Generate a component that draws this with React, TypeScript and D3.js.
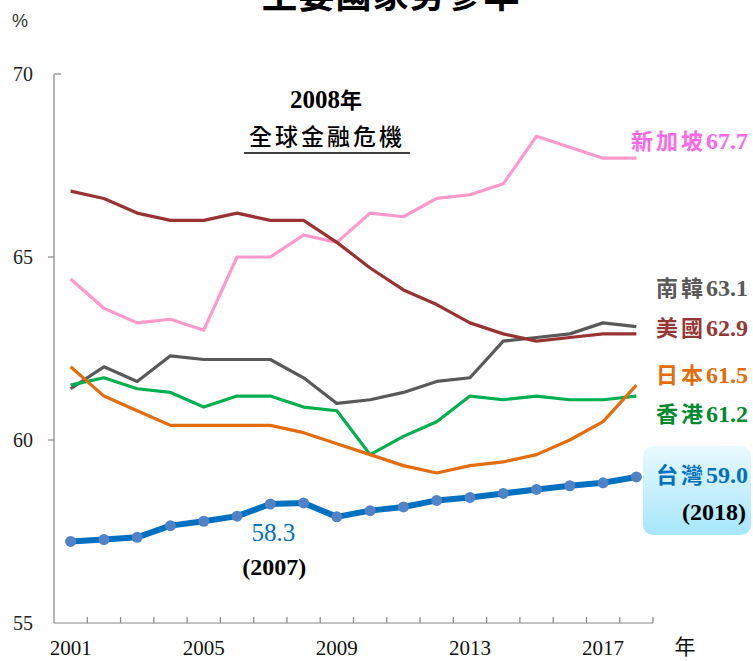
import React, { useEffect, useRef } from 'react';
import * as d3 from 'd3';

// ---- data ----
const years = ['2001', '2002', '2003', '2004', '2005', '2006', '2007', '2008', '2009',
	'2010', '2011', '2012', '2013', '2014', '2015', '2016', '2017', '2018'];
const yearLabels = ['2001', '2005', '2009', '2013', '2017'];
const yTicks = [55, 60, 65, 70];

const singapore = [64.4, 63.6, 63.2, 63.3, 63.0, 65.0, 65.0, 65.6, 65.4, 66.2, 66.1, 66.6, 66.7, 67.0, 68.3, 68.0, 67.7, 67.7];
const korea = [61.4, 62.0, 61.6, 62.3, 62.2, 62.2, 62.2, 61.7, 61.0, 61.1, 61.3, 61.6, 61.7, 62.7, 62.8, 62.9, 63.2, 63.1];
const usa = [66.8, 66.6, 66.2, 66.0, 66.0, 66.2, 66.0, 66.0, 65.4, 64.7, 64.1, 63.7, 63.2, 62.9, 62.7, 62.8, 62.9, 62.9];
const hongkong = [61.5, 61.7, 61.4, 61.3, 60.9, 61.2, 61.2, 60.9, 60.8, 59.6, 60.1, 60.5, 61.2, 61.1, 61.2, 61.1, 61.1, 61.2];
const japan = [62.0, 61.2, 60.8, 60.4, 60.4, 60.4, 60.4, 60.2, 59.9, 59.6, 59.3, 59.1, 59.3, 59.4, 59.6, 60.0, 60.5, 61.5];
const taiwan = [57.23, 57.28, 57.34, 57.66, 57.78, 57.92, 58.25, 58.28, 57.90, 58.07, 58.17, 58.35, 58.43, 58.54, 58.65, 58.75, 58.83, 58.99];

const CJK = 'Noto Sans CJK TC, Noto Sans CJK SC, sans-serif';
const SERIF = 'Liberation Serif, Times New Roman, DejaVu Serif, serif';

// series drawn back to front; label position is layout only
const series = [
	{ name: '新加坡', values: singapore, line: '#ff99cc', text: '#ff66e8', width: 3.2, labelY: 149 },
	{ name: '南韓', values: korea, line: '#595959', text: '#595959', width: 3.2, labelY: 296 },
	{ name: '美國', values: usa, line: '#993333', text: '#953735', width: 3.2, labelY: 336 },
	{ name: '香港', values: hongkong, line: '#00b050', text: '#008a2e', width: 3.2, labelY: 422 },
	{ name: '日本', values: japan, line: '#e46c0a', text: '#e46c0a', width: 3.2, labelY: 383 },
	{ name: '台灣', values: taiwan, line: '#0070c0', text: '#0070c0', width: 6, labelY: 483 },
];

const W = 753;
const H = 661;

export default function App() {
	const node = useRef<SVGSVGElement>(null);

	useEffect(() => {
		const svg = d3.select(node.current);
		svg.selectAll('*').remove();

		const left = 54;
		const right = 653;
		const top = 74;
		const bottom = 623;

		const x = d3.scaleBand<string>().domain(years).range([left, right]);
		const cx = (yr: string) => (x(yr) as number) + x.bandwidth() / 2;
		const y = d3.scaleLinear().domain([55, 70]).range([bottom, top]);

		const defs = svg.append('defs');
		const grad = defs.append('linearGradient')
			.attr('id', 'boxGrad')
			.attr('x1', 0).attr('y1', 0).attr('x2', 0).attr('y2', 1);
		grad.append('stop').attr('offset', '0%').attr('stop-color', '#e9f9fe');
		grad.append('stop').attr('offset', '100%').attr('stop-color', '#a6e6fb');

		// title (cut by the top edge, as in the reference)
		svg.append('text')
			.attr('x', 391).attr('y', 8)
			.attr('text-anchor', 'middle')
			.attr('font-family', CJK)
			.attr('font-weight', 'bold')
			.attr('font-size', 36)
			.attr('letter-spacing', 1)
			.text('主要國家勞參率');

		svg.append('text')
			.attr('x', 20).attr('y', 27)
			.attr('text-anchor', 'middle')
			.attr('font-family', 'Liberation Sans, Arial, sans-serif')
			.attr('font-size', 18)
			.attr('fill', '#333')
			.text('%');

		// axes
		const axisColor = '#868686';
		svg.append('line')
			.attr('x1', left).attr('x2', left)
			.attr('y1', top).attr('y2', bottom)
			.attr('stroke', axisColor).attr('stroke-width', 1.2);
		svg.append('line')
			.attr('x1', left).attr('x2', right)
			.attr('y1', bottom).attr('y2', bottom)
			.attr('stroke', axisColor).attr('stroke-width', 1.2);

		svg.append('g')
			.selectAll('line')
			.data(yTicks.filter(t => t !== 55))
			.enter()
			.append('line')
			.attr('x1', d => (d === 70 ? left : left - 6))
			.attr('x2', d => (d === 70 ? left + 7 : left))
			.attr('y1', d => y(d)).attr('y2', d => y(d))
			.attr('stroke', axisColor).attr('stroke-width', 1.2);

		svg.append('g')
			.selectAll('text')
			.data(yTicks)
			.enter()
			.append('text')
			.attr('x', 33)
			.attr('y', d => y(d) + 7)
			.attr('text-anchor', 'end')
			.attr('font-family', SERIF)
			.attr('font-size', 20)
			.attr('fill', '#222')
			.text(d => d);

		const boundaries = years.map(yr => x(yr) as number).concat([right]);
		svg.append('g')
			.selectAll('line')
			.data(boundaries.slice(1))
			.enter()
			.append('line')
			.attr('x1', d => d).attr('x2', d => d)
			.attr('y1', bottom).attr('y2', bottom - 6)
			.attr('stroke', axisColor).attr('stroke-width', 1.2);

		svg.append('g')
			.selectAll('text')
			.data(yearLabels)
			.enter()
			.append('text')
			.attr('x', d => cx(d))
			.attr('y', 655)
			.attr('text-anchor', 'middle')
			.attr('font-family', SERIF)
			.attr('font-size', 21)
			.attr('fill', '#111')
			.text(d => d);

		svg.append('text')
			.attr('x', 685).attr('y', 654)
			.attr('text-anchor', 'middle')
			.attr('font-family', CJK)
			.attr('font-size', 21)
			.attr('fill', '#111')
			.text('年');

		// annotation: 2008 financial crisis
		const t2008 = svg.append('text')
			.attr('x', 326).attr('y', 108)
			.attr('text-anchor', 'middle')
			.attr('font-weight', 'bold');
		t2008.append('tspan')
			.attr('font-family', SERIF)
			.attr('font-size', 25)
			.text('2008');
		t2008.append('tspan')
			.attr('font-family', CJK)
			.attr('font-size', 22)
			.text('年');
		svg.append('text')
			.attr('x', 327).attr('y', 145)
			.attr('text-anchor', 'middle')
			.attr('font-family', CJK)
			.attr('font-size', 23)
			.attr('font-weight', 500)
			.attr('letter-spacing', 3)
			.text('全球金融危機');
		svg.append('line')
			.attr('x1', 244).attr('x2', 410)
			.attr('y1', 153).attr('y2', 153)
			.attr('stroke', '#000').attr('stroke-width', 1.5);

		// lines
		const line = d3.line<number>()
			.x((d, i) => cx(years[i]))
			.y(d => y(d));

		series.forEach((s) => {
			svg.append('path')
				.datum(s.values)
				.attr('d', line)
				.attr('fill', 'none')
				.attr('stroke', s.line)
				.attr('stroke-width', s.width)
				.attr('stroke-linejoin', 'round');
		});

		svg.append('g')
			.selectAll('circle')
			.data(taiwan)
			.enter()
			.append('circle')
			.attr('cx', (d, i) => cx(years[i]))
			.attr('cy', d => y(d))
			.attr('r', 5.5)
			.attr('fill', '#5282c6');

		// end box for Taiwan
		svg.append('rect')
			.attr('x', 643).attr('y', 446)
			.attr('width', 108).attr('height', 89)
			.attr('rx', 10)
			.attr('fill', 'url(#boxGrad)');

		// end labels
		series.forEach((s) => {
			const t = svg.append('text')
				.attr('x', 748)
				.attr('y', s.labelY)
				.attr('text-anchor', 'end')
				.attr('fill', s.text);
			t.append('tspan')
				.attr('font-family', CJK)
				.attr('font-size', 22)
				.attr('font-weight', 'bold')
				.attr('letter-spacing', 3)
				.text(s.name);
			t.append('tspan')
				.attr('font-family', SERIF)
				.attr('font-weight', 'bold')
				.attr('font-size', 24)
				.text(s.values[s.values.length - 1].toFixed(1));
		});

		svg.append('text')
			.attr('x', 746).attr('y', 520)
			.attr('text-anchor', 'end')
			.attr('font-family', SERIF)
			.attr('font-weight', 'bold')
			.attr('font-size', 24)
			.text('(2018)');

		// 2007 callout
		const i2007 = years.indexOf('2007');
		svg.append('text')
			.attr('x', cx('2007') + 3).attr('y', 541)
			.attr('text-anchor', 'middle')
			.attr('font-family', SERIF)
			.attr('font-size', 25)
			.attr('fill', '#0070c0')
			.text(taiwan[i2007].toFixed(1));
		svg.append('text')
			.attr('x', cx('2007') + 4).attr('y', 575)
			.attr('text-anchor', 'middle')
			.attr('font-family', SERIF)
			.attr('font-weight', 'bold')
			.attr('font-size', 24)
			.text('(2007)');
	}, []);

	return (
		<svg
			ref={node}
			width={W}
			height={H}
			style={{ position: 'absolute', left: 0, top: 0, background: '#fff' }}
		/>
	);
}
